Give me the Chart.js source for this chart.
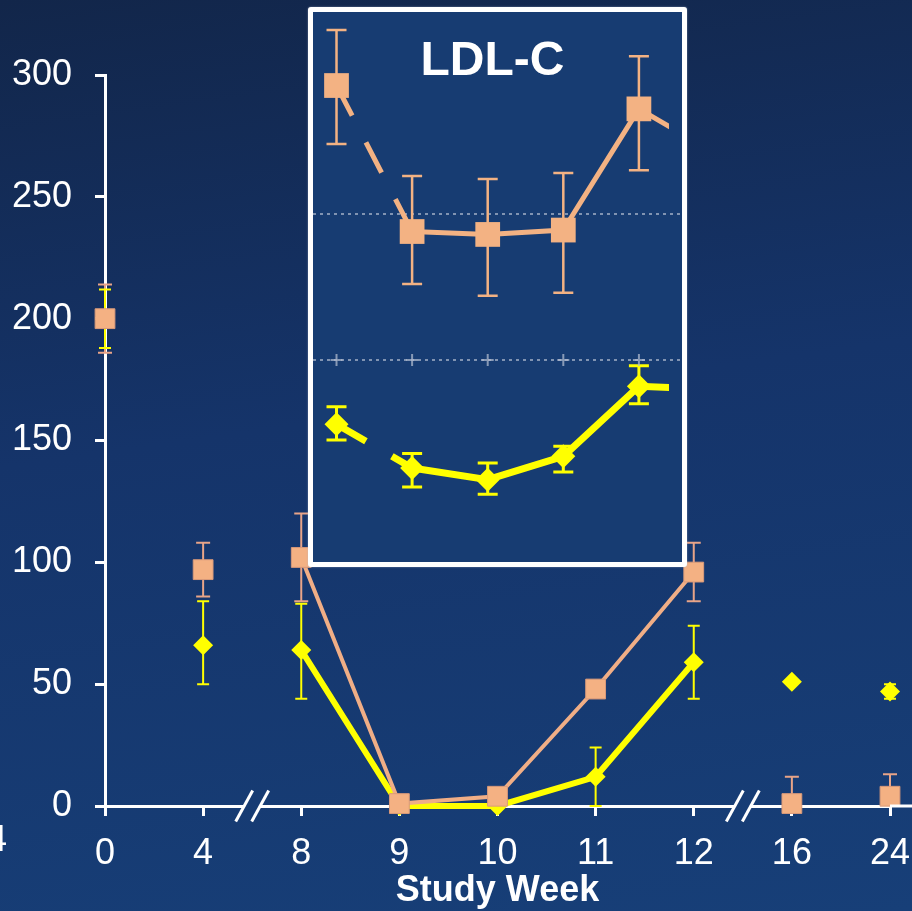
<!DOCTYPE html>
<html>
<head>
<meta charset="utf-8">
<script src="https://cdn.jsdelivr.net/npm/chart.js@4.4.0/dist/chart.umd.min.js"></script>
<style>
  html, body { margin: 0; padding: 0; }
  body {
    width: 912px; height: 911px; overflow: hidden; position: relative;
    background: linear-gradient(172deg, #12264a 0%, #15346a 45%, #173f78 100%);
    font-family: 'Liberation Sans', Arial, sans-serif;
  }
  #main { position: absolute; left: 0; top: 0; }
  #insetBox {
    position: absolute; left: 308px; top: 7px; width: 369px; height: 550px;
    border: 5px solid #fff; border-radius: 3px; background: #173c72;
    box-shadow: 0 0 2px rgba(170, 180, 200, 0.7);
  }
  #inset { position: absolute; left: 0; top: 0; }
  #insetTitle {
    position: absolute; left: 0; width: 359px; top: 23px;
    text-align: center; color: #fff; font: bold 48px 'Liberation Sans', Arial, sans-serif;
    line-height: 48px;
  }
</style>
</head>
<body>
<canvas id="main" width="912" height="911"></canvas>
<div id="insetBox">
  <canvas id="inset" width="369" height="550"></canvas>
  <div id="insetTitle">LDL-C</div>
</div>
<script>
// main chart
var weeks = ['0', '4', '8', '9', '10', '11', '12', '16', '24'];
var orangeMean = [200, 97, 102, 1, 4, 48, 96, 1, 4];
var orangeLow  = [186, 86, 84, null, null, 46, 84, null, null];
var orangeHigh = [214, 108, 120, null, null, 50, 108, 12, 13];
var yellowMean = [200, 66, 64, 0, 0, 12, 59, 51, 47];
var yellowLow  = [188, 50, 44, null, null, 0, 44, null, 44];
var yellowHigh = [212, 84, 83, null, null, 24, 74, null, 50];
var yTicks = [0, 50, 100, 150, 200, 250, 300];
var breaksAt = [1.5, 6.5];   // axis breaks between 4|8 and 12|16

// inset (LDL-C), weeks 8-12, last point only gives the line tail
var insetWeeks = [8, 9, 10, 11, 12, 13];
var insetOrange     = [194, 144, 143, 144.5, 186, 171];
var insetOrangeLow  = [174, 126, 122, 123, 165, null];
var insetOrangeHigh = [213, 163, 162, 164, 204, null];
var insetYellow     = [78, 63, 59, 67, 91, 90];
var insetYellowLow  = [72.6, 56.5, 54, 61.6, 85, null];
var insetYellowHigh = [84, 68, 64.7, 70.5, 98, null];
var insetGrid = [100, 150];

Chart.defaults.font.family = "'Liberation Sans', Arial, sans-serif";

// whiskers drawn from errLow / errHigh on each dataset
var errorBars = {
  id: 'errorBars',
  beforeDatasetsDraw: function (chart) {
    var ctx = chart.ctx;
    chart.data.datasets.forEach(function (ds, i) {
      if (!ds.errLow) return;
      var meta = chart.getDatasetMeta(i);
      var ys = chart.scales[meta.yAxisID];
      ctx.save();
      ctx.strokeStyle = ds.errColor;
      ctx.lineWidth = ds.errWidth;
      meta.data.forEach(function (pt, j) {
        var lo = ds.errLow[j], hi = ds.errHigh[j];
        if (lo == null && hi == null) return;
        var x = pt.x;
        var yLo = lo == null ? pt.y : ys.getPixelForValue(lo);
        var yHi = hi == null ? pt.y : ys.getPixelForValue(hi);
        var c = ds.errCap / 2;
        ctx.beginPath();
        ctx.moveTo(x, yLo); ctx.lineTo(x, yHi);
        if (lo != null) { ctx.moveTo(x - c, yLo); ctx.lineTo(x + c, yLo); }
        if (hi != null) { ctx.moveTo(x - c, yHi); ctx.lineTo(x + c, yHi); }
        ctx.stroke();
      });
      ctx.restore();
    });
  }
};

// axis breaks, axis extension, cut-off label at the left edge
var axisExtras = {
  id: 'axisExtras',
  afterDraw: function (chart) {
    var ctx = chart.ctx, area = chart.chartArea, xs = chart.scales.x;
    var yb = area.bottom;
    ctx.save();
    ctx.strokeStyle = '#fff';
    ctx.lineWidth = 3;
    ctx.beginPath();
    ctx.moveTo(area.right, yb); ctx.lineTo(chart.width, yb);
    ctx.stroke();
    breaksAt.forEach(function (b) {
      var cx = xs.getPixelForValue(b);
      ctx.save();
      ctx.globalCompositeOperation = 'destination-out';
      ctx.fillRect(cx - 8, yb - 3, 16, 6);
      ctx.restore();
      [-8, 8].forEach(function (d) {
        ctx.beginPath();
        ctx.moveTo(cx + d - 8.5, yb + 15.5);
        ctx.lineTo(cx + d + 8.5, yb - 15.5);
        ctx.stroke();
      });
    });
    ctx.fillStyle = '#fff';
    ctx.font = "36px 'Liberation Sans', Arial, sans-serif";
    ctx.textBaseline = 'middle';
    ctx.textAlign = 'left';
    ctx.fillText('4', -13, 841);
    ctx.restore();
  }
};

function linkedOnly(ctx) {
  return (ctx.p0DataIndex >= 2 && ctx.p1DataIndex <= 6) ? undefined : 'transparent';
}

new Chart(document.getElementById('main'), {
  type: 'line',
  data: {
    labels: weeks,
    datasets: [{
      data: orangeMean,
      borderColor: '#f0ae86',
      borderWidth: 4,
      pointStyle: 'rect',
      pointRadius: 14,
      pointBackgroundColor: '#f4b183',
      pointBorderColor: '#d99a7a',
      pointBorderWidth: 1,
      segment: { borderColor: linkedOnly },
      clip: false,
      errLow: orangeLow, errHigh: orangeHigh,
      errColor: '#e8a488', errWidth: 2, errCap: 14
    }, {
      data: yellowMean,
      borderColor: '#ffff00',
      borderWidth: 6,
      pointStyle: 'rectRot',
      pointRadius: 10,
      pointBackgroundColor: '#ffff00',
      pointBorderWidth: 0,
      segment: { borderColor: linkedOnly },
      clip: false,
      errLow: yellowLow, errHigh: yellowHigh,
      errColor: '#ffff00', errWidth: 2, errCap: 12
    }]
  },
  options: {
    responsive: false,
    animation: false,
    events: [],
    devicePixelRatio: 1,
    layout: { autoPadding: false, padding: { top: 75, right: 22, left: 0, bottom: 0 } },
    plugins: { legend: { display: false }, tooltip: { enabled: false } },
    scales: {
      x: {
        offset: false,
        grid: { drawOnChartArea: false, drawTicks: true, tickLength: 10, color: '#fff', lineWidth: 3 },
        border: { color: '#fff', width: 3 },
        ticks: { color: '#fff', font: { size: 36 }, padding: 16, maxRotation: 0, autoSkip: false },
        title: { display: true, text: 'Study Week', color: '#fff', font: { size: 36, weight: 'bold' }, padding: { top: 0, bottom: -2 } },
        afterFit: function (s) { s.height = 105; s.paddingLeft = 0; s.paddingRight = 0; }
      },
      y: {
        min: 0, max: 300,
        afterBuildTicks: function (axis) { axis.ticks = yTicks.map(function (v) { return { value: v }; }); },
        grid: { drawOnChartArea: false, drawTicks: true, tickLength: 10, color: '#fff', lineWidth: 3 },
        border: { color: '#fff', width: 3 },
        ticks: { color: '#fff', font: { size: 36 }, padding: 23 },
        afterFit: function (s) { s.width = 105; s.paddingTop = 0; s.paddingBottom = 0; }
      }
    }
  },
  plugins: [errorBars, axisExtras]
});

// inset chart
function pts(vals) {
  return insetWeeks.map(function (w, i) { return { x: w, y: vals[i] }; });
}
function shownRadius(r) {
  return function (ctx) { return ctx.raw && ctx.raw.x <= 12 ? r : 0; };
}
function firstDashed(ctx) {
  return ctx.p0DataIndex === 0 ? [34, 30] : undefined;
}
var insetClip = { left: false, top: false, right: -13, bottom: false };

new Chart(document.getElementById('inset'), {
  type: 'line',
  data: {
    datasets: [{
      data: pts(insetOrange),
      borderColor: '#f3b283',
      borderWidth: 5,
      pointStyle: 'rect',
      pointRadius: shownRadius(17.5),
      pointBackgroundColor: '#f3b283',
      pointBorderWidth: 0,
      segment: { borderDash: firstDashed },
      clip: insetClip,
      errLow: insetOrangeLow, errHigh: insetOrangeHigh,
      errColor: '#f3b283', errWidth: 2.5, errCap: 20
    }, {
      data: pts(insetYellow),
      borderColor: '#ffff00',
      borderWidth: 7,
      pointStyle: 'rectRot',
      pointRadius: shownRadius(12),
      pointBackgroundColor: '#ffff00',
      pointBorderWidth: 0,
      segment: { borderDash: firstDashed },
      clip: insetClip,
      errLow: insetYellowLow, errHigh: insetYellowHigh,
      errColor: '#ffff00', errWidth: 3, errCap: 20
    }, {
      data: insetWeeks.slice(0, 5).map(function (w) { return { x: w, y: insetGrid[0] }; }),
      showLine: false,
      pointStyle: 'cross',
      pointRadius: 6,
      pointBorderColor: 'rgba(175,185,205,0.75)',
      pointBorderWidth: 2,
      order: 5
    }]
  },
  options: {
    responsive: false,
    animation: false,
    events: [],
    devicePixelRatio: 1,
    layout: { autoPadding: false, padding: 0 },
    plugins: { legend: { display: false }, tooltip: { enabled: false } },
    scales: {
      x: { type: 'linear', min: 7.689, max: 12.57, display: false },
      y: {
        min: 30.82, max: 219.18,
        afterBuildTicks: function (axis) { axis.ticks = insetGrid.map(function (v) { return { value: v }; }); },
        ticks: { display: false },
        grid: { drawTicks: false, color: 'rgba(165,178,200,0.75)', lineWidth: 2 },
        border: { display: false, dash: [3, 4] }
      }
    }
  },
  plugins: [errorBars]
});
</script>
</body>
</html>
